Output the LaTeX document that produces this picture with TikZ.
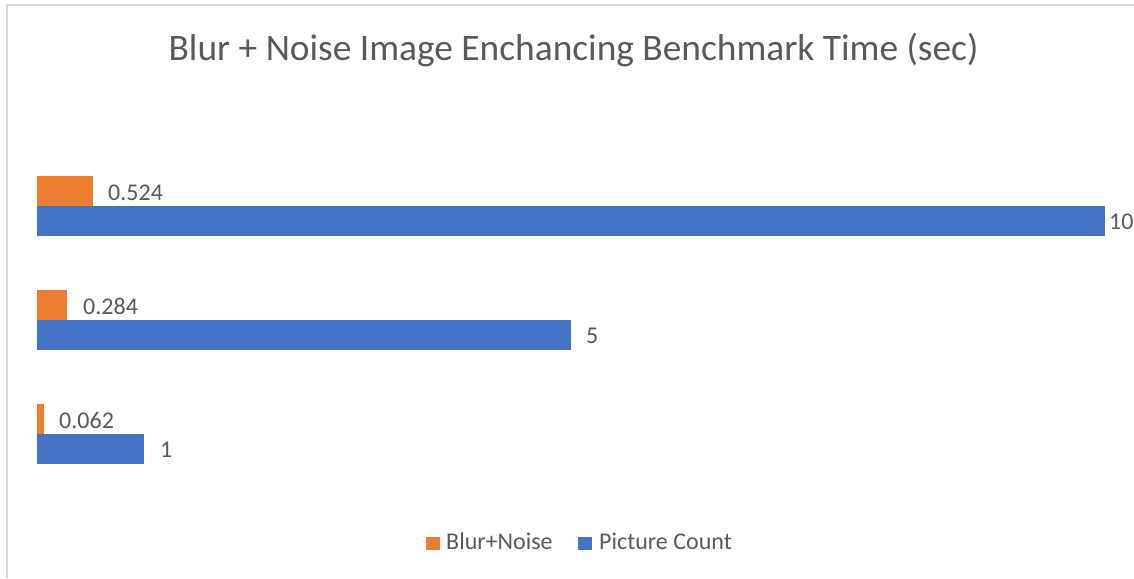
\documentclass[tikz,border=0pt]{standalone}
\usepackage{fontspec}
\setmainfont{Carlito}
\definecolor{barorange}{HTML}{ED7D31}
\definecolor{barblue}{HTML}{4472C4}
\definecolor{txtgray}{HTML}{595959}
\definecolor{framegray}{HTML}{D9D9D9}
\tikzset{
  vlabel/.style={anchor=west, inner sep=0pt, text=txtgray, font=\fontsize{24}{28}\selectfont},
  legtext/.style={anchor=base west, inner sep=0pt, text=txtgray, font=\fontsize{24}{28}\selectfont},
  titletext/.style={anchor=base, inner sep=0pt, text=txtgray, font=\fontsize{37.4}{44}\selectfont},
}
\begin{document}
\begin{tikzpicture}[x=1pt,y=-1pt]
\useasboundingbox (0,0) rectangle (1134,578);
\fill[white] (0,0) rectangle (1134,578);
\draw[framegray, line width=2pt] (6.7,578) -- (6.7,5) -- (1134,5);
\node[titletext] (title) at (573.5,60) {Blur + Noise Image Enchancing Benchmark Time (sec)};
\foreach \t/\o/\ox/\bv/\bx in {176/0.524/108/10/1109, 290/0.284/83/5/586, 404/0.062/59/1/160}{
  \fill[barorange] (37,\t) rectangle ({37+\o*106.8},{\t+29.7});
  \fill[barblue] (37,{\t+29.7}) rectangle ({37+\bv*106.8},{\t+60});
  \node[vlabel] (o\bv) at (\ox,{\t+16.5}) {\o};
  \node[vlabel] (b\bv) at (\bx,{\t+46}) {\bv};
}
\fill[barorange] (426,536.7) rectangle (440,550);
\node[legtext] (leg1) at (446,549.5) {Blur+Noise};
\fill[barblue] (577.7,536.7) rectangle (591.7,550);
\node[legtext] (leg2) at (599,549.5) {Picture Count};
\end{tikzpicture}
\end{document}
